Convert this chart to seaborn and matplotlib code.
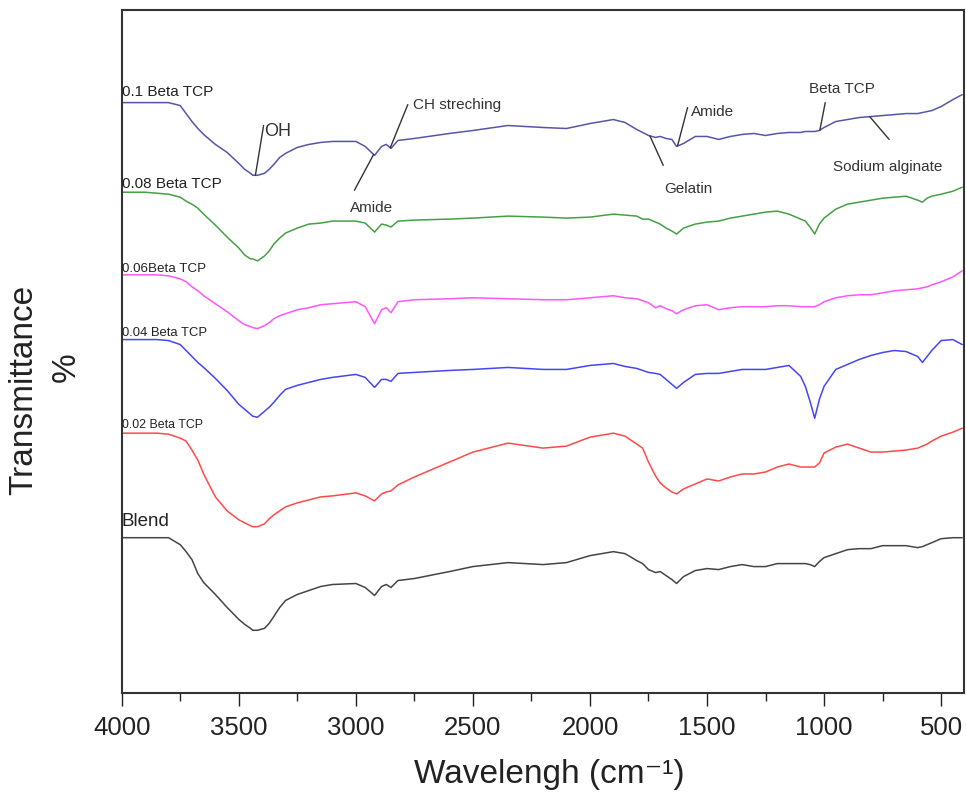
import numpy as np
import pandas as pd
import matplotlib
matplotlib.use('Agg')
import matplotlib.pyplot as plt
import seaborn as sns

# ── Data: FTIR spectra, values already stacked with their plot offsets ──
wavenumber = [4000, 3900, 3850, 3800, 3750, 3725, 3700, 3675, 3650, 3600,
              3550, 3500, 3475, 3450, 3440, 3420, 3390, 3370, 3350, 3325,
              3300, 3250, 3200, 3150, 3100, 3000, 2960, 2920, 2890, 2870,
              2850, 2820, 2750, 2600, 2500, 2350, 2200, 2100, 2000, 1900,
              1850, 1800, 1775, 1750, 1720, 1700, 1675, 1650, 1630, 1600,
              1550, 1500, 1450, 1400, 1350, 1300, 1250, 1200, 1150, 1100,
              1080, 1060, 1040, 1020, 1000, 950, 900, 850, 800, 750,
              700, 650, 600, 580, 560, 540, 500, 450, 410]

tcp_010 = [590, 590, 590, 590, 587, 579, 571, 564, 558, 548,
           540, 529, 523, 519, 517, 517, 519, 523, 528, 535,
           539, 545, 548, 550, 551, 551, 546, 537, 546, 548,
           544, 552, 554, 559, 562, 567, 565, 564, 569, 573,
           570, 563, 560, 557, 555, 556, 554, 553, 546, 549,
           556, 556, 553, 556, 558, 559, 557, 559, 560, 560,
           561, 561, 561, 562, 565, 571, 573, 575, 576, 577,
           578, 579, 579, 580, 581, 582, 586, 593, 598]

tcp_008 = [500, 500, 499, 498, 495, 491, 488, 484, 478, 467,
           455, 444, 437, 433, 433, 431, 436, 441, 448, 454,
           459, 464, 468, 469, 471, 471, 469, 460, 468, 467,
           465, 471, 472, 473, 474, 476, 475, 474, 475, 478,
           477, 476, 473, 473, 470, 468, 464, 461, 458, 464,
           468, 470, 471, 474, 476, 478, 480, 481, 478, 473,
           471, 465, 458, 468, 474, 483, 488, 490, 492, 494,
           495, 496, 492, 490, 494, 496, 498, 501, 505]

tcp_006 = [417, 417, 417, 416, 413, 410, 405, 401, 396, 388,
           380, 371, 367, 365, 364, 363, 366, 369, 373, 376,
           378, 382, 384, 387, 388, 390, 385, 368, 382, 384,
           379, 390, 392, 393, 394, 393, 392, 392, 394, 396,
           394, 393, 391, 389, 384, 386, 383, 381, 378, 382,
           386, 387, 382, 384, 385, 385, 385, 386, 386, 385,
           385, 385, 385, 387, 390, 394, 396, 397, 397, 399,
           401, 402, 403, 404, 405, 407, 410, 415, 421]

tcp_004 = [352, 352, 352, 351, 347, 341, 335, 329, 324, 313,
           301, 287, 282, 277, 275, 274, 280, 284, 289, 296,
           302, 306, 309, 312, 314, 317, 314, 304, 312, 312,
           310, 318, 319, 321, 322, 324, 322, 322, 326, 328,
           325, 323, 321, 319, 318, 317, 312, 307, 303, 309,
           317, 318, 318, 320, 322, 322, 322, 324, 326, 315,
           305, 290, 273, 292, 305, 322, 327, 332, 336, 339,
           341, 340, 335, 329, 335, 341, 351, 352, 347]

tcp_002 = [258, 258, 258, 257, 253, 250, 241, 231, 217, 194,
           180, 171, 168, 165, 164, 164, 167, 172, 176, 180,
           184, 188, 191, 194, 195, 198, 195, 190, 197, 199,
           200, 206, 214, 229, 239, 248, 243, 245, 254, 258,
           255, 247, 243, 229, 215, 208, 203, 199, 197, 202,
           207, 212, 210, 214, 217, 217, 219, 224, 227, 224,
           224, 224, 224, 228, 238, 244, 247, 243, 239, 239,
           240, 241, 243, 245, 247, 250, 255, 259, 263]

blend = [153, 153, 153, 153, 146, 139, 131, 117, 108, 96,
         83, 71, 66, 62, 60, 60, 62, 67, 74, 83,
         90, 96, 100, 104, 106, 107, 103, 95, 104, 106,
         103, 110, 112, 119, 124, 128, 126, 128, 135, 139,
         137, 130, 127, 121, 118, 119, 115, 111, 107, 114,
         120, 122, 121, 124, 126, 124, 124, 127, 127, 127,
         127, 126, 124, 129, 133, 137, 141, 142, 142, 145,
         145, 145, 143, 144, 146, 148, 152, 153, 153]

sample_names = ['0.1 Beta TCP', '0.08 Beta TCP', '0.06Beta TCP',
                '0.04 Beta TCP', '0.02 Beta TCP', 'Blend']
series = [tcp_010, tcp_008, tcp_006, tcp_004, tcp_002, blend]
colors = ['#5656a8', '#45a045', '#ff55ff', '#4545f5', '#ff4a4a', '#454545']
label_sizes = [11, 11, 9.6, 9.4, 8.9, 13.5]
label_dy = [7.5, 6, 4.5, 4.5, 6, 12]

# peak assignments on the top spectrum: (text, peak wn, line end wn/y, text wn/y, ha)
peak_labels = [
    ('OH',              3429, 3394, 567, 3390, 561, 'left'),
    ('CH streching',    2853, 2778, 588, 2754, 588, 'left'),
    ('Amide',           2924, 3006, 502, 2933, 484, 'center'),
    ('Amide',           1626, 1583, 585, 1568, 581, 'left'),
    ('Gelatin',         1744, 1687, 527, 1579, 503, 'center'),
    ('Beta TCP',        1018,  995, 590,  922, 604, 'center'),
    ('Sodium alginate',  805,  722, 553,  729, 525, 'center'),
]

df = pd.DataFrame({'wavenumber': wavenumber})
for name, s in zip(sample_names, series):
    df[name] = s
long_df = df.melt(id_vars='wavenumber', var_name='sample', value_name='T')

# ── Plot ──────────────────────────────────────────────────────
sns.set_theme(style='white')
plt.rcParams['font.family'] = ['Liberation Sans', 'DejaVu Sans']

fig = plt.figure(figsize=(9.66, 8.01), dpi=100)
ax = fig.add_axes([0.126, 0.1348, 0.872, 0.8527])

sns.lineplot(data=long_df, x='wavenumber', y='T', hue='sample',
             hue_order=sample_names, palette=colors, lw=1.1,
             legend=False, ax=ax, estimator=None)
for ln in ax.lines:
    ln.set_solid_joinstyle('round')

for name, s, fs, dy in zip(sample_names, series, label_sizes, label_dy):
    ax.annotate(name, xy=(wavenumber[0], s[0]), xytext=(0, dy),
                textcoords='offset points', ha='left', va='center',
                fontsize=fs, color='#222222')

x_inc = np.array(wavenumber[::-1])
y_top = np.array(tcp_010[::-1])
for text, wn, ex, ey, tx, ty, ha in peak_labels:
    ax.annotate('', xy=(wn, np.interp(wn, x_inc, y_top)), xytext=(ex, ey),
                arrowprops=dict(arrowstyle='-', color='#333333', lw=1,
                                shrinkA=0, shrinkB=0))
    ax.text(tx, ty, text, ha=ha, va='center', color='#333333',
            fontsize=13 if text == 'OH' else 11)

ax.set_xlim(4000, 402)
ax.set_ylim(-3, 683)
ax.set_xticks([4000, 3500, 3000, 2500, 2000, 1500, 1000, 500])
ax.set_xticks(np.arange(3750, 400, -500), minor=True)
ax.set_yticks([])
ax.tick_params(axis='x', which='major', direction='out', length=9.5,
               width=1, labelsize=18.5, pad=7, bottom=True, colors='#222222')
ax.tick_params(axis='x', which='minor', direction='out', length=5.8,
               width=1, bottom=True, color='#222222')
for sp in ax.spines.values():
    sp.set_color('#333333')
    sp.set_linewidth(1.5)
ax.set_xlabel('')
ax.set_ylabel('')

fig.text(24 / 966, 1 - 390 / 801, 'Transmittance', rotation=90,
         ha='center', va='center', fontsize=24, color='#222222')
fig.text(66 / 966, 1 - 367 / 801, '%', rotation=90,
         ha='center', va='center', fontsize=24, color='#222222')
fig.text(549 / 966, 1 - 775 / 801, 'Wavelengh (cm\u207b\u00b9)',
         ha='center', va='center', fontsize=24, color='#222222')

fig.savefig('out.png', dpi=100)
